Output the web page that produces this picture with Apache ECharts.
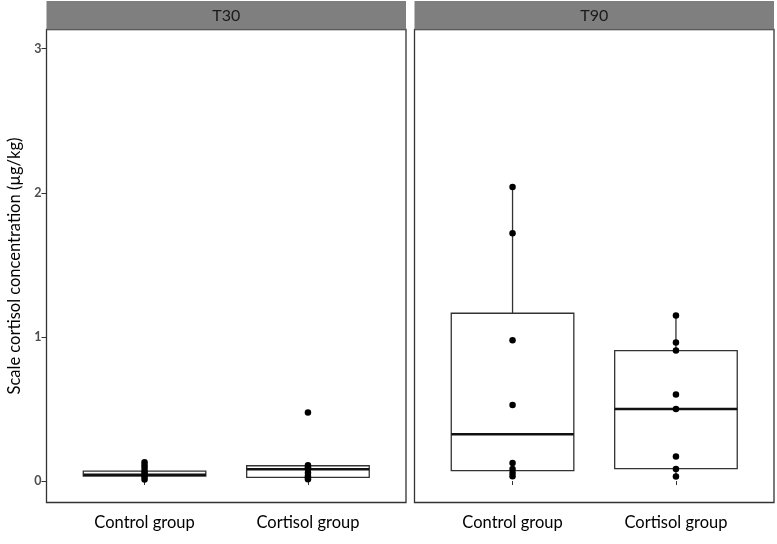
<!DOCTYPE html>
<html><head><meta charset="utf-8">
<script src="https://cdn.jsdelivr.net/npm/echarts@6/dist/echarts.min.js"></script>
<style>html,body{margin:0;padding:0;background:#fff}#c{width:777px;height:544px}</style>
</head><body><div id="c"></div>
<script>
const facets = ['T30', 'T90'];
const groups = ['Control group', 'Cortisol group'];
const yTicks = [0, 1, 2, 3];
// box stats per facet per group: [min, q1, median, q3, max]
const boxT30 = [[0.01, 0.035, 0.044, 0.069, 0.13], [0.015, 0.026, 0.082, 0.106, 0.11]];
const boxT90 = [[0.033, 0.072, 0.325, 1.164, 2.04], [0.031, 0.086, 0.50, 0.905, 1.148]];
// raw points
const ptsT30Control = [0.13, 0.11, 0.09, 0.07, 0.055, 0.04, 0.03, 0.01];
const ptsT30Cortisol = [0.476, 0.109, 0.095, 0.085, 0.058, 0.035, 0.025, 0.012];
const ptsT90Control = [2.04, 1.72, 0.976, 0.528, 0.125, 0.084, 0.056, 0.033];
const ptsT90Cortisol = [1.148, 0.962, 0.905, 0.60, 0.50, 0.171, 0.084, 0.031];

const chart = echarts.init(document.getElementById('c'));
const FONT = 'Lato';
const grids = [
  {left: 46.5, top: 29.5, width: 359.5, height: 473},
  {left: 414.5, top: 29.5, width: 359.5, height: 473}
];
function xAx(i) {
  return {
    type: 'value', gridIndex: i, min: 0.4, max: 2.6,
    axisLine: {show: false}, splitLine: {show: false},
    axisTick: {show: true, length: 4, lineStyle: {color: '#333', width: 1}, customValues: [1, 2]},
    axisLabel: {show: true, customValues: [1, 2], formatter: v => groups[Math.round(v) - 1] || '',
      color: '#000', fontSize: 16.5, fontFamily: FONT, margin: 12}
  };
}
function yAx(i) {
  return {
    type: 'value', gridIndex: i, min: -0.149, max: 3.133,
    axisLine: {show: false}, splitLine: {show: false},
    axisTick: {show: i === 0, length: 5, lineStyle: {color: '#333', width: 1}, customValues: yTicks},
    axisLabel: {show: i === 0, customValues: yTicks, color: '#4d4d4d', fontSize: 12.5, fontWeight: 'bold', fontFamily: FONT, margin: 5},
    name: i === 0 ? 'Scale cortisol concentration (µg/kg)' : '',
    nameLocation: 'middle', nameGap: 23, nameRotate: 90,
    nameTextStyle: {color: '#000', fontSize: 16.5, fontFamily: FONT}
  };
}
function boxSeries(idx, stats) {
  return {
    type: 'custom', xAxisIndex: idx, yAxisIndex: idx, z: 2,
    data: stats.map((s, k) => [k + 1].concat(s)),
    encode: {x: 0, y: [1, 2, 3, 4, 5]},
    renderItem: function (params, api) {
      const x = api.value(0);
      const hw = 0.375;
      const pMin = api.coord([x, api.value(1)]);
      const pQ1 = api.coord([x, api.value(2)]);
      const pMed = api.coord([x, api.value(3)]);
      const pQ3 = api.coord([x, api.value(4)]);
      const pMax = api.coord([x, api.value(5)]);
      const l = api.coord([x - hw, 0])[0];
      const r = api.coord([x + hw, 0])[0];
      const st = {stroke: '#333', lineWidth: 1.3, fill: null};
      return {type: 'group', children: [
        {type: 'line', shape: {x1: pQ3[0], y1: pQ3[1], x2: pMax[0], y2: pMax[1]}, style: st},
        {type: 'line', shape: {x1: pQ1[0], y1: pQ1[1], x2: pMin[0], y2: pMin[1]}, style: st},
        {type: 'rect', shape: {x: l, y: pQ3[1], width: r - l, height: pQ1[1] - pQ3[1]}, style: {stroke: '#333', lineWidth: 1.3, fill: '#fff'}},
        {type: 'line', shape: {x1: l, y1: pMed[1], x2: r, y2: pMed[1]}, style: {stroke: '#111', lineWidth: 2.6}}
      ]};
    }
  };
}
function ptSeries(idx, xcat, vals) {
  return {
    type: 'scatter', xAxisIndex: idx, yAxisIndex: idx, z: 5,
    symbol: 'circle', symbolSize: 6.5, itemStyle: {color: '#000', opacity: 1},
    data: vals.map(v => [xcat, v]), silent: true
  };
}
const gridOpts = grids.map(g => Object.assign({show: true, borderColor: '#333', borderWidth: 1.3, backgroundColor: '#fff'}, g));
chart.setOption({
  animation: false,
  grid: gridOpts,
  xAxis: [xAx(0), xAx(1)],
  yAxis: [yAx(0), yAx(1)],
  graphic: facets.map((f, i) => ({
    type: 'group', left: grids[i].left, top: 1,
    children: [
      {type: 'rect', shape: {x: 0, y: 0, width: grids[i].width, height: 28.5}, style: {fill: '#7f7f7f'}},
      {type: 'text', x: grids[i].width / 2, y: 15, style: {text: f, fill: '#1a1a1a', fontSize: 16, fontFamily: FONT, align: 'center', verticalAlign: 'middle'}}
    ]
  })),
  series: [
    boxSeries(0, boxT30), boxSeries(1, boxT90),
    ptSeries(0, 1, ptsT30Control), ptSeries(0, 2, ptsT30Cortisol),
    ptSeries(1, 1, ptsT90Control), ptSeries(1, 2, ptsT90Cortisol)
  ]
});
</script></body></html>
